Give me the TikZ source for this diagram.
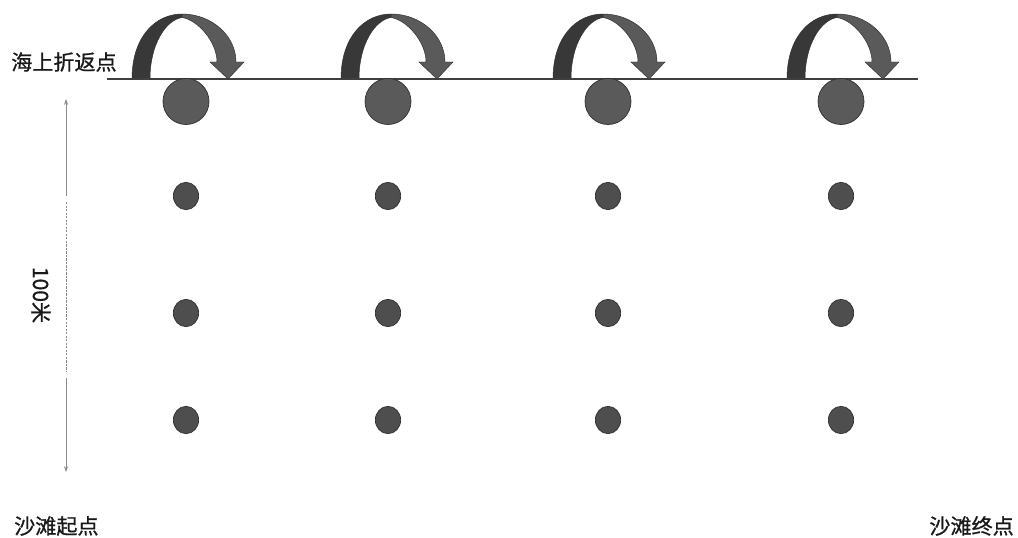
\documentclass[tikz,border=0pt]{standalone}
\usepackage{fontspec}
\setmainfont{Noto Sans CJK SC}[FakeBold=0.8]
\usetikzlibrary{arrows.meta,shapes.geometric}
\definecolor{darkband}{HTML}{383838}
\definecolor{midband}{HTML}{5A5A5A}
\definecolor{dotfill}{HTML}{4E4E4E}
\definecolor{bigfill}{HTML}{5A5A5A}
\definecolor{edgecol}{HTML}{303030}
\definecolor{dimcol}{HTML}{8A8A8A}
\definecolor{linecol}{HTML}{404040}
\tikzset{
  lbl/.style={font=\fontsize{18}{20}\selectfont, inner sep=0pt, text=black!90},
  bigdot/.style={circle, draw=edgecol, line width=0.6pt, fill=bigfill, minimum size=1.38cm, inner sep=0pt},
  smalldot/.style={ellipse, draw=edgecol, line width=0.6pt, fill=dotfill, minimum width=0.76cm, minimum height=0.82cm, inner sep=0pt},
  bandL/.style={fill=darkband, draw=edgecol, line width=0.4pt},
  bandR/.style={fill=midband, draw=edgecol, line width=0.4pt},
  dimline/.style={draw=dimcol, line width=0.7pt},
  sealine/.style={draw=linecol, line width=1.1pt}
}
\begin{document}
\begin{tikzpicture}[x=0.03cm,y=-0.03cm]
\useasboundingbox (0,0) rectangle (1018,537);
% curved turn arrows
\foreach \f in {132,341,553,787}{
  \begin{scope}[shift={(\f,0)}]
    \path[bandR] (50,14) .. controls (80,14) and (104,36) .. (104,62)
      -- (112,62) -- (96,79) -- (78,62) -- (85,62)
      .. controls (85,42) and (66,20) .. (50,17.5) -- cycle;
    \path[bandL] (0,79) .. controls (0,36) and (24,14) .. (50,14)
      -- (50,17.5) .. controls (34,20) and (18,44) .. (18,79) -- cycle;
  \end{scope}
}
% sea turning line
\coordinate (seaL) at (107,79);
\coordinate (seaR) at (918,79);
\draw[sealine] (seaL) -- (seaR);
% dots
\foreach \x/\n in {186/1,388/2,608/3,841/4}{
  \node[bigdot] (b\n) at (\x,101.5) {};
  \foreach \y/\r in {196/1,313/2,420/3}{
    \node[smalldot] (d\n\r) at (\x,\y) {};
  }
}
% dimension line
\coordinate (dimTop) at (66,99);
\coordinate (dimA) at (66,196);
\coordinate (dimB) at (66,202);
\coordinate (dimC) at (66,372);
\coordinate (dimD) at (66,378);
\coordinate (dimBot) at (66,472);
\draw[dimline, {Stealth[length=5pt,width=3.5pt]}-] (dimTop) -- (dimA);
\draw[dimline, dashed, dash pattern=on 2pt off 1pt, line width=0.5pt] (dimB) -- (dimC);
\draw[dimline, -{Stealth[length=5pt,width=3.5pt]}] (dimD) -- (dimBot);
\node[lbl, rotate=-90] (dimlabel) at (41,295) {100米};
% labels
\node[lbl, anchor=west] (sea) at (11,62) {海上折返点};
\node[lbl, anchor=west] (start) at (14,526) {沙滩起点};
\node[lbl, anchor=east] (finish) at (1014,526) {沙滩终点};
\end{tikzpicture}
\end{document}
